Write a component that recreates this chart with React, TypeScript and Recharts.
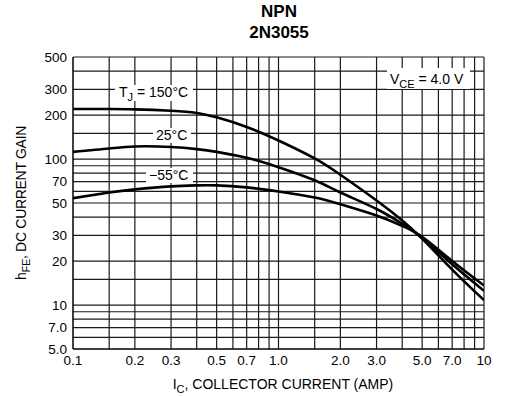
import React from 'react';
import { LineChart, Line, XAxis, YAxis, ReferenceLine, Label } from 'recharts';

const currents = [0.1, 0.15, 0.2, 0.3, 0.4, 0.5, 0.7, 1.0, 1.5, 2.0, 3.0, 4.0, 5.0, 7.0, 10];
const gain150 = [220, 220, 219, 214, 207, 193, 166, 134, 101, 78, 52, 38, 28.5, 17.5, 10.8];
const gain25 = [112, 118, 122, 121, 117, 112, 102, 88, 71.5, 59, 45.5, 36, 28.8, 19, 12.5];
const gainM55 = [54, 59, 62, 65, 66, 66, 64, 60, 54.5, 49, 41, 34.8, 29.3, 20, 13.6];

const xTicks = [0.1, 0.2, 0.3, 0.5, 0.7, 1.0, 2.0, 3.0, 5.0, 7.0, 10];
const xTickLabels = ['0.1', '0.2', '0.3', '0.5', '0.7', '1.0', '2.0', '3.0', '5.0', '7.0', '10'];
const yTicks = [5, 7, 10, 20, 30, 50, 70, 100, 200, 300, 500];
const yTickLabels = ['5.0', '7.0', '10', '20', '30', '50', '70', '100', '200', '300', '500'];

const xGrid = [0.15, 0.2, 0.3, 0.4, 0.5, 0.6, 0.7, 0.8, 0.9, 1, 1.5, 2, 3, 4, 5, 6, 7, 8, 9, 10];
const yGrid = [6, 7, 8, 9, 10, 15, 20, 30, 40, 50, 60, 70, 80, 90, 100, 150, 200, 300, 400, 500];

const data = currents.map((ic, i) => ({
  ic,
  t150: gain150[i],
  t25: gain25[i],
  tm55: gainM55[i],
}));

const FONT = '"Liberation Sans", Arial, sans-serif';
const GRID = '#1a1a1a';

const XTitle = () => (
  <text x={283} y={389} textAnchor="middle" fontFamily={FONT} fontSize={14} fill="#000">
    <tspan>I</tspan>
    <tspan dy={4} fontSize={11}>C</tspan>
    <tspan dy={-4}>, COLLECTOR CURRENT (AMP)</tspan>
  </text>
);

const YTitle = () => (
  <text
    x={0}
    y={0}
    transform="translate(26, 203) rotate(-90)"
    textAnchor="middle"
    fontFamily={FONT}
    fontSize={14}
    letterSpacing={-0.3}
    fill="#000"
  >
    <tspan>h</tspan>
    <tspan dy={4} fontSize={11}>FE</tspan>
    <tspan dy={-4}>, DC CURRENT GAIN</tspan>
  </text>
);

export default function App() {
  return (
    <div style={{ position: 'absolute', left: 0, top: 0, width: 508, height: 396, background: '#fff' }}>
      <LineChart
        width={508}
        height={396}
        data={data}
        margin={{ top: 57, right: 24, bottom: 0, left: 0 }}
      >
        <XAxis
          dataKey="ic"
          type="number"
          scale="log"
          domain={[0.1, 10]}
          allowDataOverflow
          ticks={xTicks}
          tickFormatter={(v: number) => xTickLabels[xTicks.indexOf(v)] ?? String(v)}
          tickLine={false}
          tickSize={0}
          tickMargin={6}
          height={47}
          axisLine={{ stroke: '#000', strokeWidth: 1.5 }}
          tick={{ fill: '#000', fontSize: 13.5, fontFamily: FONT }}
        >
          <Label content={XTitle} />
        </XAxis>
        <YAxis
          type="number"
          scale="log"
          domain={[5, 500]}
          allowDataOverflow
          ticks={yTicks}
          tickFormatter={(v: number) => yTickLabels[yTicks.indexOf(v)] ?? String(v)}
          tickLine={false}
          tickSize={0}
          tickMargin={6}
          width={73}
          axisLine={{ stroke: '#000', strokeWidth: 1.5 }}
          tick={{ fill: '#000', fontSize: 13.5, fontFamily: FONT }}
        >
          <Label content={YTitle} />
        </YAxis>
        {xGrid.map((v) => (
          <ReferenceLine key={`x${v}`} x={v} stroke={GRID} strokeWidth={1.2} />
        ))}
        {yGrid.map((v) => (
          <ReferenceLine key={`y${v}`} y={v} stroke={GRID} strokeWidth={1.2} />
        ))}
        <Line type="natural" dataKey="t150" stroke="#000" strokeWidth={2.6} dot={false} isAnimationActive={false} />
        <Line type="natural" dataKey="t25" stroke="#000" strokeWidth={2.6} dot={false} isAnimationActive={false} />
        <Line type="natural" dataKey="tm55" stroke="#000" strokeWidth={2.6} dot={false} isAnimationActive={false} />
      </LineChart>
      <svg
        width={508}
        height={396}
        style={{ position: 'absolute', left: 0, top: 0, pointerEvents: 'none' }}
        fontFamily={FONT}
      >
        <text x={279} y={17} textAnchor="middle" fontSize={17} fontWeight="bold" fill="#000">NPN</text>
        <text x={279} y={38} textAnchor="middle" fontSize={17} fontWeight="bold" fill="#000">2N3055</text>

        <rect x={115} y={85} width={78} height={16} fill="#fff" />
        <text x={119} y={97} fontSize={14} fill="#000">
          <tspan>T</tspan>
          <tspan dy={4} fontSize={11}>J</tspan>
          <tspan dy={-4}> = 150°C</tspan>
        </text>

        <rect x={153} y={128} width={38} height={15} fill="#fff" />
        <text x={156} y={140} fontSize={14} fill="#000">25°C</text>

        <rect x={146} y={168} width={47} height={15} fill="#fff" />
        <text x={149} y={180} fontSize={14} fill="#000">−55°C</text>

        <rect x={387} y={68} width={83} height={21} fill="#fff" />
        <text x={390} y={84} fontSize={14} fill="#000">
          <tspan>V</tspan>
          <tspan dy={4} fontSize={11}>CE</tspan>
          <tspan dy={-4}> = 4.0 V</tspan>
        </text>
      </svg>
    </div>
  );
}
